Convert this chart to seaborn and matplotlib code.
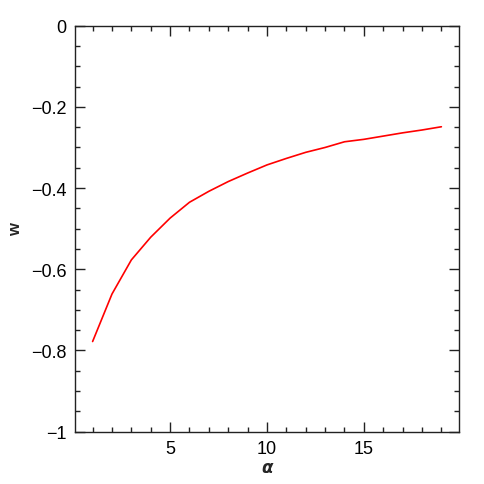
import matplotlib
matplotlib.use("Agg")
import matplotlib.pyplot as plt
from matplotlib.ticker import MultipleLocator
import pandas as pd
import seaborn as sns

alpha_vals = list(range(1, 20))
w_vals = [-0.778, -0.661, -0.577, -0.521, -0.474, -0.435, -0.408, -0.384, -0.363,
          -0.343, -0.327, -0.312, -0.300, -0.286, -0.280, -0.272, -0.264, -0.257, -0.249]

sns.set_theme(style="ticks")
plt.rcParams["font.family"] = ["Liberation Sans", "DejaVu Sans"]


def y_fmt(v, _):
    if abs(v) < 1e-9:
        return "0"
    if abs(v + 1) < 1e-9:
        return "\u22121"
    return f"{v:.1f}".replace("-", "\u2212")


df = pd.DataFrame({"alpha": alpha_vals, "w": w_vals})

fig = plt.figure(figsize=(4.85, 4.85), dpi=100)
ax = fig.add_axes([0.155, 0.108, 0.791, 0.837])
sns.lineplot(data=df, x="alpha", y="w", color="red", linewidth=1.2, ax=ax)

ax.set_xlim(0.1, 19.9)
ax.set_ylim(-1, 0)
ax.xaxis.set_major_locator(MultipleLocator(5))
ax.xaxis.set_minor_locator(MultipleLocator(1))
ax.yaxis.set_major_locator(MultipleLocator(0.2))
ax.yaxis.set_minor_locator(MultipleLocator(0.05))
ax.yaxis.set_major_formatter(plt.FuncFormatter(y_fmt))
ax.xaxis.set_major_formatter(plt.FuncFormatter(lambda v, _: f"{v:g}" if v > 0.5 else ""))

ax.tick_params(which="both", direction="in", top=True, right=True, width=1.0, color="#222222")
ax.tick_params(which="major", length=7.2, labelsize=13, pad=6, labelcolor="black")
ax.tick_params(which="minor", length=3.6)
for s in ax.spines.values():
    s.set_linewidth(1.0)
    s.set_color("#222222")

ax.set_xlabel("α", fontsize=12, fontweight="bold", style="italic",
              family=["DejaVu Sans"], labelpad=1)
ax.set_ylabel("w", fontsize=12, fontweight="bold", labelpad=6)

fig.savefig("out.png", dpi=100)
